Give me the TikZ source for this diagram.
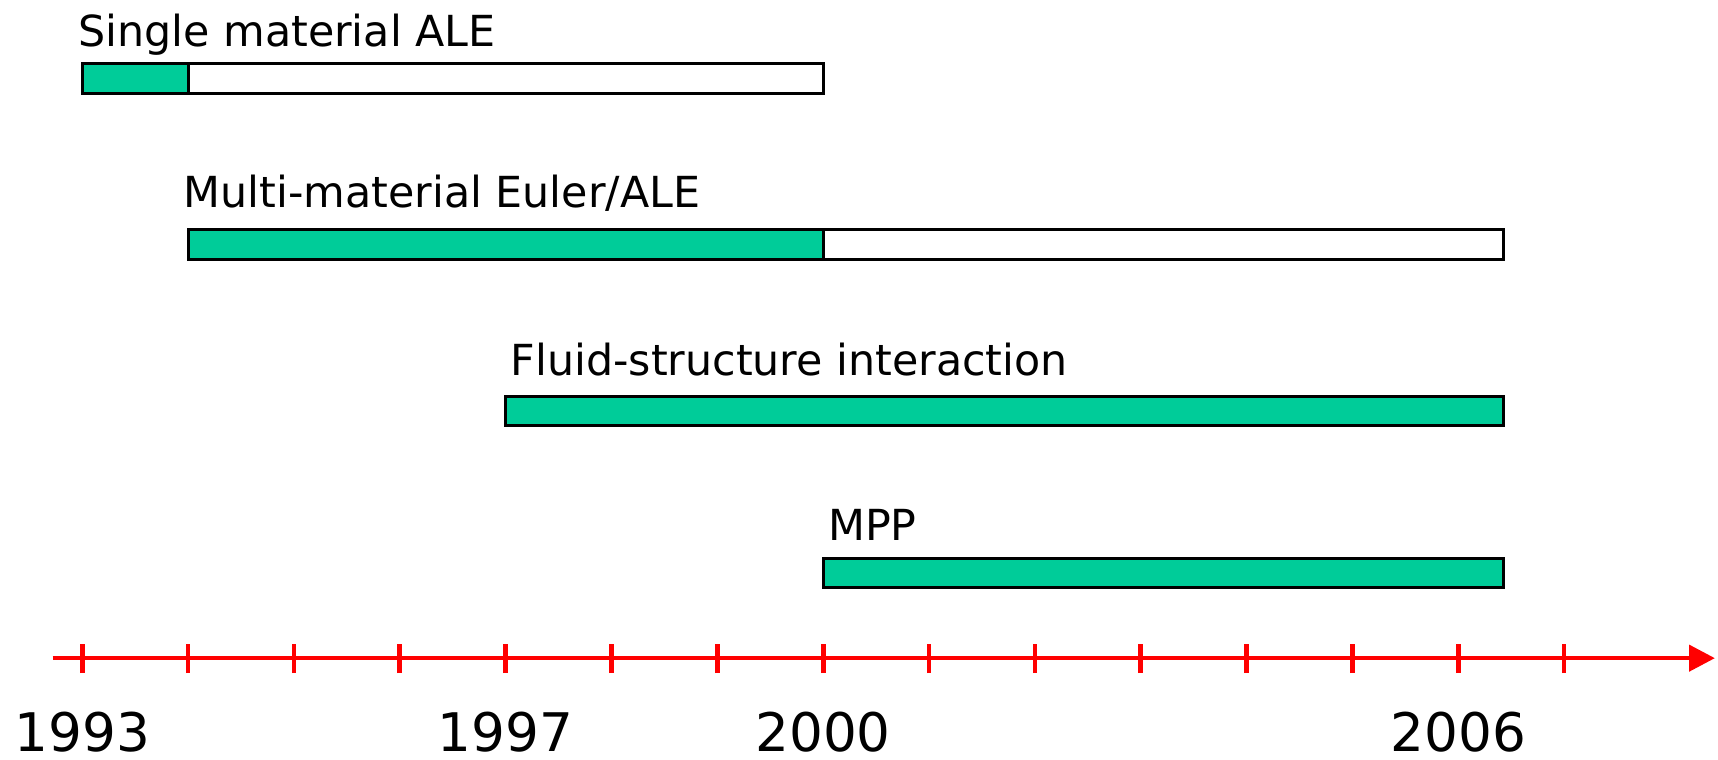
\documentclass[tikz,border=0pt]{standalone}
\usepackage{fontspec}
\setmainfont{DejaVu Sans}
\usetikzlibrary{arrows.meta}

\definecolor{bargreen}{RGB}{0,204,153}

\tikzset{
  bar/.style={draw=black,line width=0.8pt},
  done/.style={bar,fill=bargreen},
  todo/.style={bar,fill=white},
  barlabel/.style={anchor=base west,inner sep=0pt,font=\fontsize{11.5}{14}\selectfont},
  yearlabel/.style={anchor=base,inner sep=0pt,font=\fontsize{14.3}{17}\selectfont},
  axis/.style={red,line width=1.25pt}
}

\begin{document}
\begin{tikzpicture}
  \useasboundingbox (-0.777,0) rectangle (15.454,7.18);
  % time axis, one unit per year starting at 1993
  \draw[axis,-{Triangle[length=0.245cm,width=0.245cm]}] (-0.28,0.962) -- (15.425,0.962);
  \foreach \t in {0,...,14}
    \draw[axis] (\t,0.82) -- (\t,1.10);
  \node[yearlabel] (y1993) at (0,0.08) {1993};
  \node[yearlabel] (y1997) at (4,0.08) {1997};
  \node[yearlabel] (y2000) at (7,0.08) {2000};
  \node[yearlabel] (y2006) at (13,0.08) {2006};
  % projects
  \draw[done] (0,6.30) rectangle (1,6.58);
  \draw[todo] (1,6.30) rectangle (7,6.58);
  \node[barlabel] (single) at (-0.045,6.745) {Single material ALE};
  \draw[done] (1,4.725) rectangle (7,5.01);
  \draw[todo] (7,4.725) rectangle (13.43,5.01);
  \node[barlabel] (multi) at (0.95,5.215) {Multi-material Euler/ALE};
  \draw[done] (4,3.164) rectangle (13.43,3.433);
  \node[barlabel] (fsi) at (4.04,3.63) {Fluid-structure interaction};
  \draw[done] (7,1.632) rectangle (13.43,1.901);
  \node[barlabel] (mpp) at (7.04,2.078) {MPP};
\end{tikzpicture}
\end{document}
